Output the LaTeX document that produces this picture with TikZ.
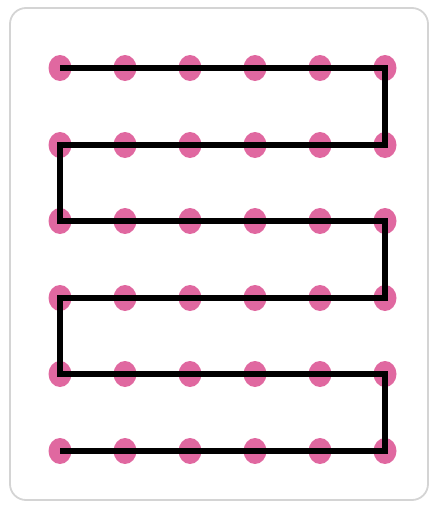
\documentclass[tikz,border=0pt]{standalone}
\usetikzlibrary{shapes.geometric}
\definecolor{dotpink}{RGB}{224,104,160}
\definecolor{framegray}{RGB}{212,212,212}
\begin{document}
\begin{tikzpicture}[x=1pt,y=-1pt,
  dotnode/.style={ellipse,fill=dotpink,draw=none,minimum width=23pt,minimum height=26pt,inner sep=0pt},
  snake/.style={line width=5.2pt,black,line join=miter,line cap=butt}]
\useasboundingbox (0,0) rectangle (432,506);
\draw[framegray,line width=1.8pt,rounded corners=16pt] (10,8) rectangle (428,500);
\foreach \r/\yy in {1/68,2/145,3/221,4/298,5/374,6/451}{
  \foreach \c/\xx in {1/60,2/125,3/190,4/255,5/320,6/385}{
    \node[dotnode] (d\r\c) at (\xx,\yy) {};
  }
}
\draw[snake] (d11.center) -- (d16.center) -- (d26.center) -- (d21.center) -- (d31.center)
  -- (d36.center) -- (d46.center) -- (d41.center) -- (d51.center) -- (d56.center)
  -- (d66.center) -- (d61.center);
\end{tikzpicture}
\end{document}
